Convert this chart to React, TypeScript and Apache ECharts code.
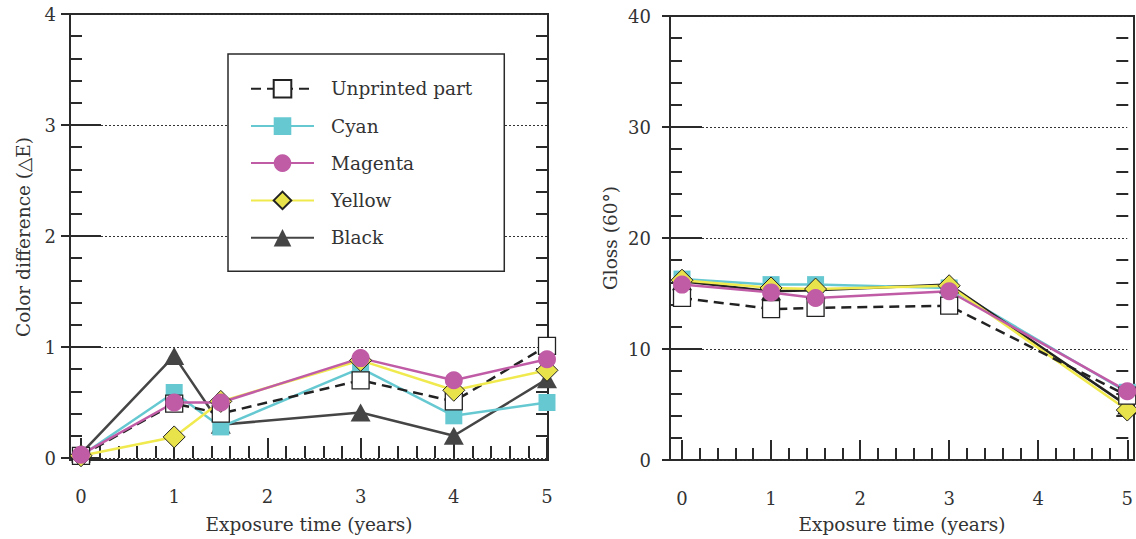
import React, { useEffect, useRef } from "react";
import * as echarts from "echarts";

// ---- Data ----
const seriesNames = ["Unprinted part", "Cyan", "Magenta", "Yellow", "Black"];

// Left chart: Color difference (ΔE)
const xLeft = [0, 1, 1.5, 3, 4, 5];
const leftUnprinted = [0.02, 0.49, 0.4, 0.7, 0.51, 1.01];
const leftCyan = [0.02, 0.59, 0.28, 0.81, 0.38, 0.5];
const leftMagenta = [0.03, 0.5, 0.5, 0.9, 0.7, 0.89];
const leftYellow = [0.02, 0.19, 0.51, 0.88, 0.61, 0.79];
const leftBlack = [0.04, 0.92, 0.3, 0.41, 0.2, 0.71];

// Right chart: Gloss (60°)
const xRight = [0, 1, 1.5, 3, 5];
const rightUnprinted = [14.6, 13.6, 13.7, 13.9, 5.8];
const rightCyan = [16.3, 15.8, 15.8, 15.5, 6.1];
const rightMagenta = [15.8, 15.1, 14.6, 15.2, 6.2];
const rightYellow = [16.2, 15.5, 15.4, 15.7, 4.5];
const rightBlack = [16.1, 15.2, 15.3, 15.8, 4.9];

const xName = "Exposure time (years)";
const leftYName = "Color difference (△E)";
const rightYName = "Gloss (60°)";

const FONT = "DejaVu Serif";
const INK = "#2a2a2a";

const pair = (xs: number[], ys: number[]) => xs.map((x, i) => [x, ys[i]]);

const styles: Record<string, any> = {
  "Unprinted part": {
    symbol: "rect",
    symbolSize: 17,
    lineStyle: { color: "#222", width: 2.5, type: [10, 6] },
    itemStyle: { color: "#ffffff", borderColor: "#222", borderWidth: 1.3 },
  },
  Cyan: {
    symbol: "rect",
    symbolSize: 17,
    lineStyle: { color: "#66c9d2", width: 2.5 },
    itemStyle: { color: "#66c9d2" },
  },
  Magenta: {
    symbol: "circle",
    symbolSize: 18,
    lineStyle: { color: "#c05ba6", width: 2.5 },
    itemStyle: { color: "#c05ba6" },
  },
  Yellow: {
    symbol: "diamond",
    symbolSize: 22,
    lineStyle: { color: "#f0ea4e", width: 2.5 },
    itemStyle: { color: "#e9e34b", borderColor: "#222", borderWidth: 1 },
  },
  Black: {
    symbol: "triangle",
    symbolSize: [20, 18],
    lineStyle: { color: "#454545", width: 2.5 },
    itemStyle: { color: "#454545" },
  },
};

const mkSeries = (name: string, xs: number[], ys: number[], xi: number, yi: number, extra: any = {}) => ({
  type: "line",
  name,
  xAxisIndex: xi,
  yAxisIndex: yi,
  data: pair(xs, ys),
  clip: false,
  showSymbol: true,
  ...styles[name],
  ...extra,
});

const noLine = { show: false };
const majorTick = { show: true, inside: true, length: 20, lineStyle: { color: INK, width: 2 } };
const noTick = { show: false };
const minorTick = { show: true, splitNumber: 5, length: 12, lineStyle: { color: INK, width: 2 } };
const noMinor = { show: false };
const gridLineStyle = { show: true, lineStyle: { color: "#333", width: 1, type: [2, 2] } };
const labelStyle = { fontFamily: FONT, fontSize: 18, color: "#333" };

// a tick-only axis (no label, no split line)
const tickAxis = (gridIndex: number, min: number, max: number, interval: number, position: string, offset: number, major: boolean) => ({
  type: "value",
  gridIndex,
  min,
  max,
  interval,
  position,
  offset,
  axisLine: noLine,
  axisTick: major ? majorTick : { ...noTick, inside: true },
  minorTick: major ? noMinor : minorTick,
  axisLabel: { show: false },
  splitLine: { show: false },
});

export default function App() {
  const ref = useRef<HTMLDivElement>(null);
  useEffect(() => {
    if (!ref.current) return;
    const chart = echarts.init(ref.current, undefined, { renderer: "svg" });
    const frameAxis = (gridIndex: number, name: string, gap: number, position: string) => ({
      type: "value",
      gridIndex,
      min: 0,
      max: 1,
      position,
      name,
      nameLocation: "middle",
      nameGap: gap,
      nameTextStyle: { fontFamily: FONT, fontSize: 18.5, color: "#333" },
      axisLine: { show: false },
      axisTick: { show: false },
      axisLabel: { show: false },
      splitLine: { show: false },
    });
    const option: any = {
      animation: false,
      backgroundColor: "#ffffff",
      textStyle: { fontFamily: FONT },
      grid: [
        { left: 81, top: 14, width: 466, height: 444, show: false },
        { left: 70, top: 14, width: 478, height: 456, show: true, borderColor: INK, borderWidth: 2, backgroundColor: "transparent" },
        { left: 682, top: 16, width: 451, height: 444, show: false },
        { left: 670, top: 16, width: 464, height: 456, show: true, borderColor: INK, borderWidth: 2, backgroundColor: "transparent" },
      ],
      xAxis: [
        {
          type: "value", gridIndex: 0, min: 0, max: 5, interval: 1, position: "bottom", offset: 12,
          axisLine: noLine, axisTick: majorTick, minorTick: noMinor,
          axisLabel: { ...labelStyle, margin: 17 }, splitLine: { show: false },
        },
        frameAxis(1, xName, 55, "bottom"),
        {
          type: "value", gridIndex: 2, min: 0, max: 5, interval: 1, position: "bottom", offset: 12,
          axisLine: noLine, axisTick: majorTick, minorTick: noMinor,
          axisLabel: { ...labelStyle, margin: 17 }, splitLine: { show: false },
        },
        frameAxis(3, xName, 55, "bottom"),
        tickAxis(0, 0, 5, 1, "bottom", 12, false),
        tickAxis(2, 0, 5, 1, "bottom", 12, false),
      ],
      yAxis: [
        {
          type: "value", gridIndex: 0, min: 0, max: 4, interval: 1, position: "left", offset: 11,
          axisLine: noLine, axisTick: majorTick, minorTick: noMinor,
          axisLabel: { ...labelStyle, margin: 14, padding: [12, 0, 0, 0] }, splitLine: gridLineStyle,
        },
        tickAxis(0, 0, 4, 1, "right", 1, true),
        frameAxis(1, leftYName, 37, "left"),
        {
          type: "value", gridIndex: 2, min: 0, max: 40, interval: 10, position: "left", offset: 12,
          axisLine: noLine, axisTick: majorTick, minorTick: noMinor,
          axisLabel: { ...labelStyle, margin: 19, padding: [12, 0, 0, 0] }, splitLine: gridLineStyle,
        },
        tickAxis(2, 0, 40, 10, "right", 1, true),
        frameAxis(3, rightYName, 50, "left"),
        tickAxis(0, 0, 4, 1, "left", 11, false),
        tickAxis(0, 0, 4, 1, "right", 1, false),
        tickAxis(2, 0, 40, 10, "left", 12, false),
        tickAxis(2, 0, 40, 10, "right", 1, false),
      ],
      legend: {
        left: 228,
        top: 54,
        orient: "vertical",
        data: seriesNames,
        selectedMode: false,
        itemWidth: 63,
        itemHeight: 22,
        itemGap: 18,
        padding: [25, 32, 24, 22],
        backgroundColor: "#ffffff",
        borderColor: INK,
        borderWidth: 1.5,
        borderRadius: 0,
        z: 10,
        textStyle: { fontFamily: FONT, fontSize: 18.5, color: "#333", padding: [0, 0, 0, 12] },
      },
      series: [
        mkSeries("Black", xLeft, leftBlack, 0, 0),
        mkSeries("Cyan", xLeft, leftCyan, 0, 0),
        mkSeries("Unprinted part", xLeft, leftUnprinted, 0, 0),
        mkSeries("Yellow", xLeft, leftYellow, 0, 0),
        mkSeries("Magenta", xLeft, leftMagenta, 0, 0),
        mkSeries("Cyan", xRight, rightCyan, 2, 3),
        mkSeries("Black", xRight, rightBlack, 2, 3, { lineStyle: { color: "#222", width: 2.5 }, itemStyle: { color: "#222" } }),
        mkSeries("Yellow", xRight, rightYellow, 2, 3),
        mkSeries("Unprinted part", xRight, rightUnprinted, 2, 3),
        mkSeries("Magenta", xRight, rightMagenta, 2, 3),
      ],
    };
    chart.setOption(option);
    return () => chart.dispose();
  }, []);
  return (
    <div
      ref={ref}
      style={{ position: "absolute", left: 0, top: 0, width: 1136, height: 539 }}
    />
  );
}
